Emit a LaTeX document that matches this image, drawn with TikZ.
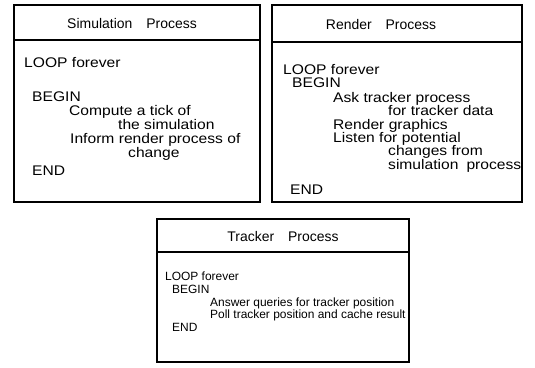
\documentclass[tikz,border=0pt]{standalone}
\usepackage{fontspec}
\setmainfont{Liberation Sans}
\newfontfamily\widefont[FakeStretch=1.12]{Liberation Sans}
\begin{document}
\begin{tikzpicture}[x=1bp,y=-1bp,
  frame/.style={draw=black,line width=1.1bp},
  txt/.style={anchor=base west,inner sep=0pt,font=\widefont\fontsize{14}{16}\selectfont},
  ttxt/.style={anchor=base west,inner sep=0pt,font=\fontsize{12}{14}\selectfont},
  ttl/.style={anchor=base,inner sep=0pt,font=\fontsize{14}{16}\selectfont}]
\useasboundingbox[fill=white] (0,0) rectangle (535,367);
% Simulation box
\draw[frame] (14,5) rectangle (260,202);
\draw[frame] (14,40) -- (260,40);
\node[ttl] (st) at (132,28) {Simulation\hspace{14bp}Process};
\node[txt] (s1) at (24,67) {LOOP forever};
\node[txt] (s2) at (32,101) {BEGIN};
\node[txt] (s3) at (69,115) {Compute a tick of};
\node[txt] (s4) at (118,129) {the simulation};
\node[txt] (s5) at (70,143) {Inform render process of};
\node[txt] (s6) at (128,157) {change};
\node[txt] (s7) at (32,175) {END};
% Render box
\draw[frame] (272,5) rectangle (522,202);
\draw[frame] (272,42) -- (522,42);
\node[ttl] (rt) at (381,29) {Render\hspace{14bp}Process};
\node[txt] (r1) at (283,74) {LOOP forever};
\node[txt] (r2) at (292,87) {BEGIN};
\node[txt] (r3) at (333,102) {Ask tracker process};
\node[txt] (r4) at (388,115) {for tracker data};
\node[txt] (r5) at (333,129) {Render graphics};
\node[txt] (r6) at (333,142) {Listen for potential};
\node[txt] (r7) at (388,155) {changes from};
\node[txt] (r8) at (388,169) {simulation\hspace{8bp}process};
\node[txt] (r9) at (290,194) {END};
% Tracker box
\draw[frame] (157,219) rectangle (409,362);
\draw[frame] (157,252) -- (409,252);
\node[ttl] (tt) at (283,241) {Tracker\hspace{14bp}Process};
\node[ttxt] (t1) at (165,280.5) {LOOP forever};
\node[ttxt] (t2) at (172,293.5) {BEGIN};
\node[ttxt] (t3) at (210,306.5) {Answer queries for tracker position};
\node[ttxt] (t4) at (210,318.5) {Poll tracker position and cache result};
\node[ttxt] (t5) at (172,331.5) {END};
\end{tikzpicture}
\end{document}
